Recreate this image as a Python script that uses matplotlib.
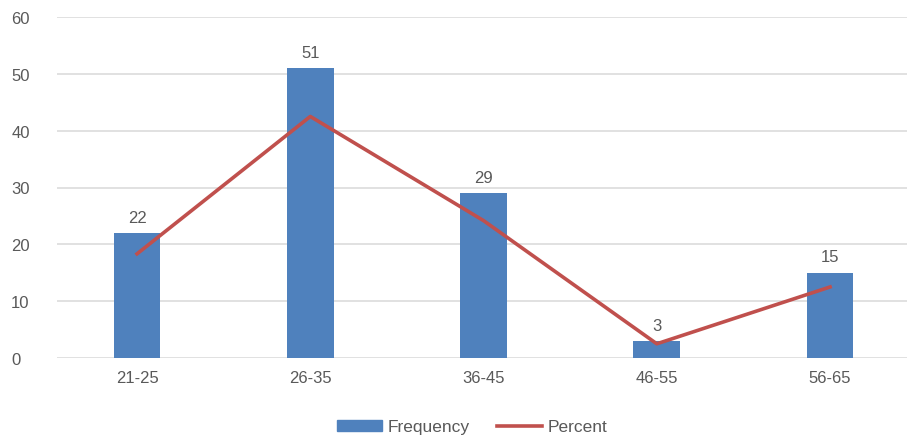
import matplotlib.pyplot as plt
import matplotlib.patches as mpatches
import matplotlib.lines as mlines

age_groups = ["21-25", "26-35", "36-45", "46-55", "56-65"]
frequency = [22, 51, 29, 3, 15]
percent = [18.33, 42.5, 24.17, 2.5, 12.5]

BAR_COLOR = "#4F81BD"
LINE_COLOR = "#C0504D"
TEXT_COLOR = "#595959"

plt.rcParams["font.family"] = ["Liberation Sans", "DejaVu Sans"]

W, H = 909, 439
fig = plt.figure(figsize=(W / 100, H / 100), dpi=100)
ax = fig.add_axes([57 / W, (H - 359) / H, 850 / W, 341 / H])

x = list(range(len(age_groups)))
ax.bar(x, frequency, width=0.27, color=BAR_COLOR, zorder=2)
ax.plot(x, percent, color=LINE_COLOR, linewidth=2.6, zorder=3)

for xi, v in zip(x, frequency):
    ax.annotate(str(v), (xi, v), xytext=(0, 6), textcoords="offset points",
                ha="center", va="bottom", fontsize=12, color=TEXT_COLOR)

ax.set_xlim(-0.462, 4.444)
ax.set_ylim(0, 60)
ax.set_yticks(range(0, 61, 10))
ax.set_xticks(x)
ax.set_xticklabels(age_groups)
ax.tick_params(axis="both", length=0, labelsize=12, colors=TEXT_COLOR)
ax.tick_params(axis="x", pad=9)
ax.tick_params(axis="y", pad=33)
for lbl in ax.get_yticklabels():
    lbl.set_horizontalalignment("left")

ax.grid(axis="y", color="#DEDEDE", linewidth=1.3, zorder=0)
for s in ax.spines.values():
    s.set_visible(False)

handles = [mpatches.Patch(color=BAR_COLOR, label="Frequency"),
           mlines.Line2D([], [], color=LINE_COLOR, linewidth=2.6, label="Percent")]
fig.legend(handles=handles, loc="center", bbox_to_anchor=(472 / W, 1 - 428 / H),
           ncol=2, frameon=False, fontsize=12.5, labelcolor=TEXT_COLOR,
           handlelength=2.6, handleheight=0.55, columnspacing=1.6, handletextpad=0.3)

fig.savefig("out.png", dpi=100)
